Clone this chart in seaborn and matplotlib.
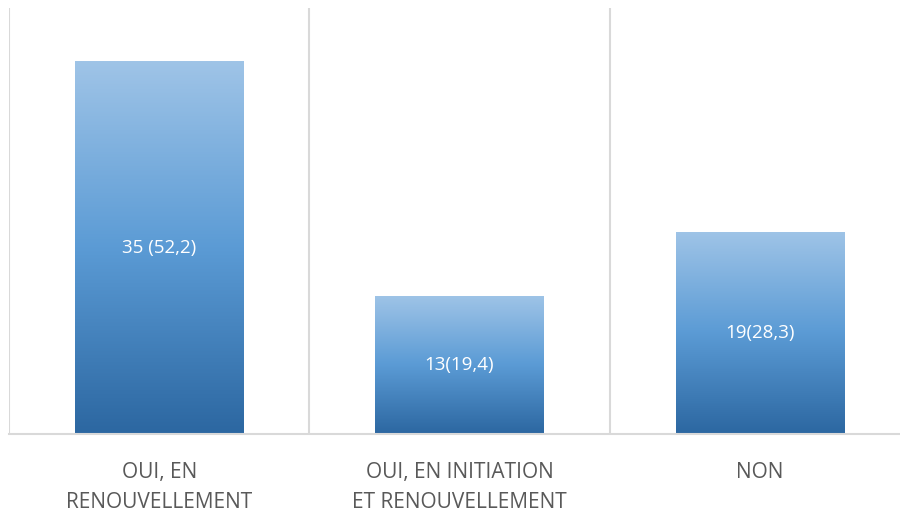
import matplotlib
matplotlib.use("Agg")
import matplotlib.pyplot as plt
import seaborn as sns
import numpy as np
import pandas as pd
from matplotlib.colors import LinearSegmentedColormap

categories = ["OUI, EN\nRENOUVELLEMENT", "OUI, EN INITIATION\nET RENOUVELLEMENT", "NON"]
values = [35, 13, 19]
value_labels = ["35 (52,2)", "13(19,4)", "19(28,3)"]

sns.set_theme(style="white")
plt.rcParams['font.family'] = ['Open Sans', 'DejaVu Sans']

df = pd.DataFrame({"cat": categories, "val": values})

fig = plt.figure(figsize=(9, 5.13), dpi=100)
ax = fig.add_axes([9/900, (513-434)/513, 901/900, (434-8)/513])

sns.barplot(data=df, x="cat", y="val", ax=ax, width=0.56, color="#5B9BD5")

ax.set_xlim(-0.5, 2.5)
ax.set_ylim(0, 40)

cmap = LinearSegmentedColormap.from_list("grad", ["#2C67A1", "#5B9BD5", "#9FC4E7"])
grad = np.linspace(0, 1, 256).reshape(-1, 1)
for p, lab in zip(ax.patches, value_labels):
    x0, w, h = p.get_x(), p.get_width(), p.get_height()
    p.set_facecolor("none")
    p.set_edgecolor("none")
    im = ax.imshow(grad, extent=[x0, x0 + w, 0, h], origin="lower", aspect="auto",
                   cmap=cmap, zorder=2)
    im.set_clip_path(p)
    ax.text(x0 + w / 2, h / 2, lab, ha="center", va="center", color="white",
            fontsize=13.5, zorder=3)

for xv in [-0.5, 0.5, 1.5, 2.5]:
    ax.axvline(xv, color="#D9D9D9", lw=1.5, zorder=0)

for s in ["top", "right", "left"]:
    ax.spines[s].set_visible(False)
ax.spines["bottom"].set_color("#D9D9D9")
ax.spines["bottom"].set_linewidth(1.5)

ax.set_yticks([])
ax.set_xlabel("")
ax.set_ylabel("")
ax.tick_params(axis="x", length=0, pad=20, labelsize=15, labelcolor="#595959")
for t in ax.get_xticklabels():
    t.set_linespacing(1.6)

fig.savefig("out.png", dpi=100)
